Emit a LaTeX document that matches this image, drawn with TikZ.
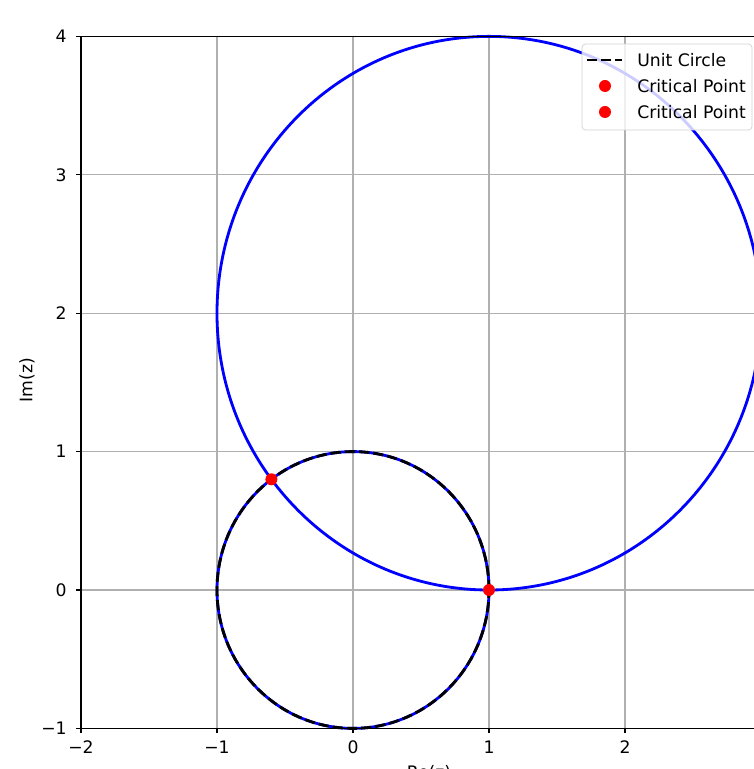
\documentclass[tikz,border=0pt]{standalone}
\usepackage{fontspec}
\setmainfont{DejaVu Sans}
\usetikzlibrary{arrows.meta,calc,positioning}

\begin{document}
\begin{tikzpicture}[x=2.72cm,y=2.768cm,
gridline/.style={gray!62,line width=0.6pt},
spine/.style={black,line width=0.6pt},
ticklab/.style={inner sep=0pt,font=\fontsize{9.8}{11.5}\selectfont},
critdot/.style={circle,fill=red,inner sep=0pt,minimum size=0.24cm},
every node/.style={font=\fontsize{9.8}{11.5}\selectfont}]
\useasboundingbox (-7.06cm,-3.58cm) rectangle (8.02cm,11.80cm);
% grid
\foreach \x in {-2,...,3} \draw[gridline] (\x,-1)--(\x,4);
\foreach \y in {-1,...,4} \draw[gridline] (-2,\y)--(3.2,\y);
% curves
\draw[blue,line width=1.6pt] (1,2) ellipse [x radius=2,y radius=2];
\draw[blue,line width=1.6pt] (0,0) ellipse [x radius=1,y radius=1];
\draw[black,line width=1.6pt,dash pattern=on 5.8pt off 2.3pt] (0,0) ellipse [x radius=1,y radius=1];
\node[critdot] (C1) at (1,0) {};
\node[critdot] (C2) at (-0.6,0.8) {};
% axes
\draw[spine] (3.2,4)--(-2,4)--(-2,-1)--(3.2,-1);
\foreach \x/\lab in {-2/−2,-1/−1,0/0,1/1,2/2} {
\draw[spine] (\x,-1)--++(0,-0.1cm);
\node[ticklab,anchor=north] (X\x) at ($(\x,-1)+(0,-0.24cm)$) {\lab};
}
\foreach \y/\lab in {-1/−1,0/0,1/1,2/2,3/3,4/4} {
\draw[spine] (-2,\y)--++(-0.1cm,0);
\node[ticklab,anchor=east] (Y\y) at ($(-2,\y)+(-0.28cm,0)$) {\lab};
}
\node[rotate=90] (ylab) at (-6.52cm,4.2cm) {Im(z)};
\node[ticklab,anchor=north] (xlab) at (1.52cm,-3.5cm) {Re(z)};
% legend
\node[draw=gray!35,fill=white,fill opacity=0.8,rounded corners=2pt,minimum width=3.4cm,minimum height=1.72cm] (legend) at (6.28cm,10.06cm) {};
\coordinate (L1) at (4.68cm,10.60cm);
\coordinate (L2) at (5.38cm,10.60cm);
\draw[black,line width=1.6pt,dash pattern=on 5.8pt off 2.3pt] (L1)--(L2);
\node[critdot] (D1) at (5.04cm,10.08cm) {};
\node[critdot] (D2) at (5.04cm,9.56cm) {};
\node[anchor=west,inner sep=0pt] (T1) at (5.68cm,10.60cm) {Unit Circle};
\node[anchor=west,inner sep=0pt] (T2) at (5.68cm,10.08cm) {Critical Point};
\node[anchor=west,inner sep=0pt] (T3) at (5.68cm,9.56cm) {Critical Point};
\end{tikzpicture}
\end{document}
